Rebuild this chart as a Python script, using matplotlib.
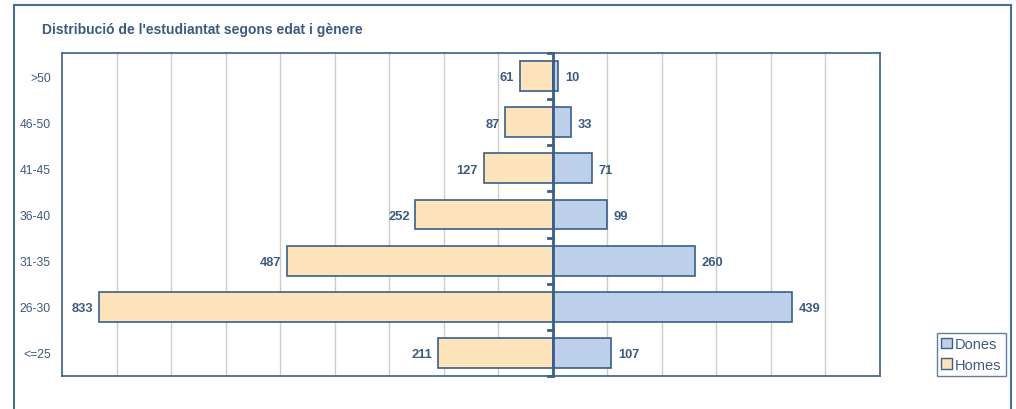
import numpy as np
import matplotlib.pyplot as plt
from matplotlib.lines import Line2D
from matplotlib.patches import Patch

## data
ages = ['<=25', '26-30', '31-35', '36-40', '41-45', '46-50', '>50']
homes = [211, 833, 487, 252, 127, 87, 61]
dones = [107, 439, 260, 99, 71, 33, 10]
##

edge = '#3A5F8A'
txt = '#3D5A80'
c_homes = '#FDE3B9'
c_dones = '#BDD0E9'

plt.rcParams['font.family'] = ['Liberation Sans', 'DejaVu Sans']

fig = plt.figure(figsize=(10.16, 4.10), dpi=100)
ax = fig.add_axes([62 / 1016, 33 / 410, 818 / 1016, 323 / 410])

y = np.arange(len(ages))
ax.barh(y, [-v for v in homes], height=0.65, color=c_homes, edgecolor=edge, linewidth=1.2, zorder=3)
ax.barh(y, dones, height=0.65, color=c_dones, edgecolor=edge, linewidth=1.2, zorder=3)

for i in range(len(ages)):
    ax.annotate(str(homes[i]), (-homes[i], y[i]), xytext=(-4, -1), textcoords='offset points',
                ha='right', va='center', fontsize=9.3, fontweight='bold', color=txt)
    ax.annotate(str(dones[i]), (dones[i], y[i]), xytext=(5, -1), textcoords='offset points',
                ha='left', va='center', fontsize=9.3, fontweight='bold', color=txt)

ax.set_xlim(-900, 600)
ax.set_ylim(-0.5, len(ages) - 0.5)
ax.set_xticks(np.arange(-800, 600, 100))
ax.xaxis.grid(True, color='#CCCCCC', linewidth=1, zorder=0)
ax.tick_params(axis='x', length=0, labelbottom=False)
ax.set_yticks(y)
ax.set_yticklabels(ages, fontsize=8.7, color=txt)
ax.tick_params(axis='y', length=0, pad=8)
for s in ax.spines.values():
    s.set_color(edge)
    s.set_linewidth(1.2)

# central axis with category ticks
ax.axvline(0, color=edge, linewidth=2, zorder=4)
for b in np.arange(-0.5, len(ages), 1.0):
    ax.plot([-8, 0], [b, b], color=edge, linewidth=2, zorder=4, clip_on=False)

fig.text(42 / 1016, 1 - 30 / 410, "Distribució de l'estudiantat segons edat i gènere",
         fontsize=10, fontweight='bold', color=txt, va='center', ha='left')

# outer frame
fw, fh = 1016, 410
fig.add_artist(Line2D([14 / fw, 14 / fw], [0, 1 - 6 / fh], color='#4A6E99', linewidth=1.5))
fig.add_artist(Line2D([14 / fw, 1011 / fw], [1 - 6 / fh, 1 - 6 / fh], color='#4A6E99', linewidth=1.5))
fig.add_artist(Line2D([1011 / fw, 1011 / fw], [0, 1 - 6 / fh], color='#4A6E99', linewidth=1.5))

handles = [Patch(facecolor=c_dones, edgecolor=edge, label='Dones'),
           Patch(facecolor=c_homes, edgecolor=edge, label='Homes')]
leg = fig.legend(handles=handles, loc='lower left', bbox_to_anchor=(937 / fw, 1 - 377 / fh),
                 fontsize=10.5, frameon=True, fancybox=False, borderpad=0.3,
                 handlelength=0.75, handleheight=0.75, handletextpad=0.2, labelspacing=0.45,
                 borderaxespad=0)
leg.get_frame().set_edgecolor(edge)
leg.get_frame().set_linewidth(1)
for t in leg.get_texts():
    t.set_color(txt)

fig.savefig('out.png', dpi=100)
